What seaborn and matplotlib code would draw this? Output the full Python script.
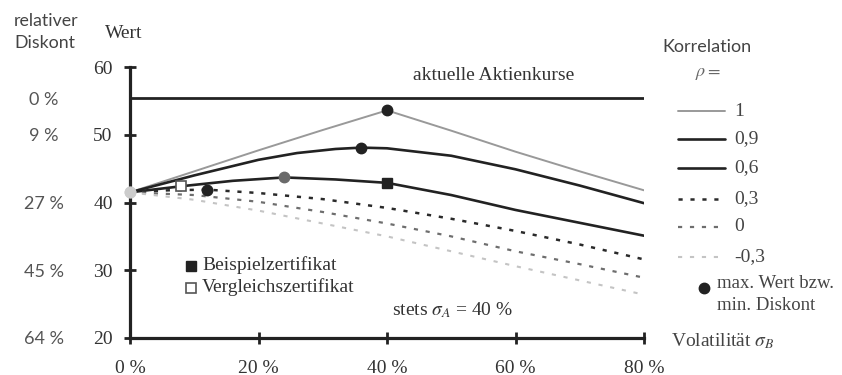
import matplotlib
matplotlib.use("Agg")
import matplotlib.pyplot as plt
import seaborn as sns
import pandas as pd
from matplotlib.lines import Line2D
from matplotlib import transforms

sns.set_theme(style="white")
plt.rcParams['font.family'] = ['Liberation Serif', 'DejaVu Serif']
plt.rcParams['mathtext.fontset'] = 'stix'
plt.rcParams['lines.scale_dashes'] = False

# --- data -------------------------------------------------------------
kurs = 55.4  # aktuelle Aktienkurse

vol_p10 = [0, 10, 20, 30, 40, 50, 60, 70, 80]
wert_p10 = [41.5, 44.6, 47.7, 50.7, 53.6, 50.6, 47.5, 44.6, 41.8]

vol_p09 = [0, 10, 20, 26, 32, 36, 40, 50, 60, 70, 80]
wert_p09 = [41.5, 44.0, 46.3, 47.3, 47.9, 48.1, 48.0, 46.9, 44.9, 42.5, 39.9]

vol_p06 = [0, 8, 16, 24, 32, 40, 50, 60, 70, 80]
wert_p06 = [41.5, 42.4, 43.2, 43.7, 43.4, 42.9, 41.1, 38.9, 37.0, 35.1]

vol_p03 = [0, 6, 12, 20, 30, 40, 50, 60, 70, 80]
wert_p03 = [41.5, 41.8, 41.9, 41.4, 40.5, 39.2, 37.6, 35.8, 33.8, 31.6]

vol_p00 = [0, 10, 20, 30, 40, 50, 60, 70, 80]
wert_p00 = [41.5, 41.1, 40.1, 38.6, 36.9, 35.0, 32.8, 30.9, 28.9]

vol_m03 = [0, 10, 20, 30, 40, 50, 60, 70, 80]
wert_m03 = [41.5, 40.4, 38.8, 36.9, 35.0, 32.8, 30.6, 28.5, 26.4]

rho_labels = ["1", "0,9", "0,6", "0,3", "0", "-0,3"]

# certificates on the rho = 0.6 curve (volatility of B)
beispiel_vol = 40
vergleich_vol = 8

y_ticks = [20, 30, 40, 50, 60]
x_ticks = [0, 20, 40, 60, 80]
x_tick_labels = ["0 %", "20 %", "40 %", "60 %", "80 %"]
diskont_pos = [kurs, 50, 40, 30, 20]
diskont_labels = ["0 %", "9 %", "27 %", "45 %", "64 %"]

# --- styles ------------------------------------------------------------
dash = (0, (3, 5.6))
series = [
    (vol_p10, wert_p10, dict(color="#999999", lw=1.4, linestyle="-"), "#222222"),
    (vol_p09, wert_p09, dict(color="#222222", lw=1.9, linestyle="-"), "#222222"),
    (vol_p06, wert_p06, dict(color="#222222", lw=1.9, linestyle="-"), "#6a6a6a"),
    (vol_p03, wert_p03, dict(color="#2a2a2a", lw=1.8, linestyle=dash), "#222222"),
    (vol_p00, wert_p00, dict(color="#6e6e6e", lw=1.6, linestyle=dash), "#cccccc"),
    (vol_m03, wert_m03, dict(color="#c4c4c4", lw=1.5, linestyle=dash), "#cccccc"),
]

W, H = 842, 375
fig = plt.figure(figsize=(W / 100, H / 100), dpi=100)
ax = fig.add_axes([130 / W, 1 - 338 / H, 514 / W, 271 / H])


def fx(px):
    return px / W


def fy(py):
    return 1 - py / H


ax.axhline(kurs, color="#222222", lw=2.0, zorder=2)

for vol, wert, style, dot_color in series:
    df = pd.DataFrame({"vol": vol, "wert": wert})
    sns.lineplot(data=df, x="vol", y="wert", ax=ax, legend=False, zorder=3, **style)
    i_max = max(range(len(wert)), key=lambda i: wert[i])
    ax.plot(vol[i_max], wert[i_max], "o", ms=7.5, color=dot_color,
            mec=dot_color, zorder=5, clip_on=False)

# certificates
b_y = wert_p06[vol_p06.index(beispiel_vol)]
v_y = wert_p06[vol_p06.index(vergleich_vol)]
ax.plot(beispiel_vol, b_y, "s", ms=7, color="#222222", zorder=6)
ax.plot(vergleich_vol, v_y, "s", ms=7, mfc="white", mec="#555555", mew=1.2, zorder=6)

ax.set_xlim(0, 80)
ax.set_ylim(20, 60)
ax.set_xticks(x_ticks)
ax.set_xticklabels(x_tick_labels)
ax.set_yticks(y_ticks)
ax.set_xlabel("")
ax.set_ylabel("")
for s in ["top", "right"]:
    ax.spines[s].set_visible(False)
for s in ["left", "bottom"]:
    ax.spines[s].set_linewidth(2.3)
    ax.spines[s].set_color("#222222")
ax.tick_params(axis="both", direction="inout", length=9, width=2.0,
               colors="#222222", labelsize=14, labelcolor="#333333",
               bottom=True, left=True)
ax.tick_params(axis="y", pad=8)
ax.tick_params(axis="x", pad=11)
ax.patch.set_alpha(0)

sans = ["Lato", "DejaVu Sans"]

# relative discount scale on the far left
trans = transforms.blended_transform_factory(fig.transFigure, ax.transData)
for pos, lab in zip(diskont_pos, diskont_labels):
    ax.text(fx(44), pos, lab, transform=trans, ha="center", va="center_baseline",
            fontsize=13, color="#555555", family=sans)

fig.text(fx(14), fy(21), "relativer", ha="left", va="center", fontsize=12.8,
         color="#444444", family=sans)
fig.text(fx(14), fy(43), "Diskont", ha="left", va="center", fontsize=12.8,
         color="#444444", family=sans)
fig.text(fx(105), fy(34), "Wert", ha="left", va="center", fontsize=14, color="#333333")

fig.text(fx(494), fy(75), "aktuelle Aktienkurse", ha="center", va="center",
         fontsize=14, color="#333333")

# correlation legend
fig.text(fx(707), fy(47), "Korrelation", ha="center", va="center", fontsize=13,
         color="#444444", family=sans)
fig.text(fx(708), fy(73), r"$\rho =$", ha="center", va="center", fontsize=13,
         color="#666666")
leg_y = [111, 139, 168, 199, 227, 257]
for (vol, wert, style, _), lab, ly in zip(series, rho_labels, leg_y):
    fig.add_artist(Line2D([fx(678), fx(725)], [fy(ly), fy(ly)], transform=fig.transFigure,
                          color=style["color"], lw=style["lw"], linestyle=style["linestyle"]))
    fig.text(fx(734), fy(ly), lab, ha="left", va="center", fontsize=14, color="#444444")

fig.add_artist(Line2D([fx(704)], [fy(288)], transform=fig.transFigure, marker="o",
                      ms=7.5, color="#222222", linestyle="none"))
fig.text(fx(717), fy(284), "max. Wert bzw.", ha="left", va="center", fontsize=13.5,
         color="#444444")
fig.text(fx(717), fy(305), "min. Diskont", ha="left", va="center", fontsize=13.5,
         color="#444444")

fig.text(fx(671), fy(341), r"Volatilität $\sigma_B$", ha="left", va="center",
         fontsize=14, color="#444444")

# certificate legend
fig.add_artist(Line2D([fx(191)], [fy(266)], transform=fig.transFigure, marker="s",
                      ms=7, color="#222222", linestyle="none"))
fig.add_artist(Line2D([fx(191)], [fy(288)], transform=fig.transFigure, marker="s",
                      ms=7, mfc="white", mec="#555555", mew=1.2, linestyle="none"))
fig.text(fx(202), fy(265), "Beispielzertifikat", ha="left", va="center",
         fontsize=14, color="#333333")
fig.text(fx(202), fy(287), "Vergleichszertifikat", ha="left", va="center",
         fontsize=14, color="#333333")

fig.text(fx(453), fy(310), r"stets $\sigma_A$ = 40 %", ha="center", va="center",
         fontsize=14, color="#333333")

fig.savefig("out.png", dpi=100, facecolor="white")
